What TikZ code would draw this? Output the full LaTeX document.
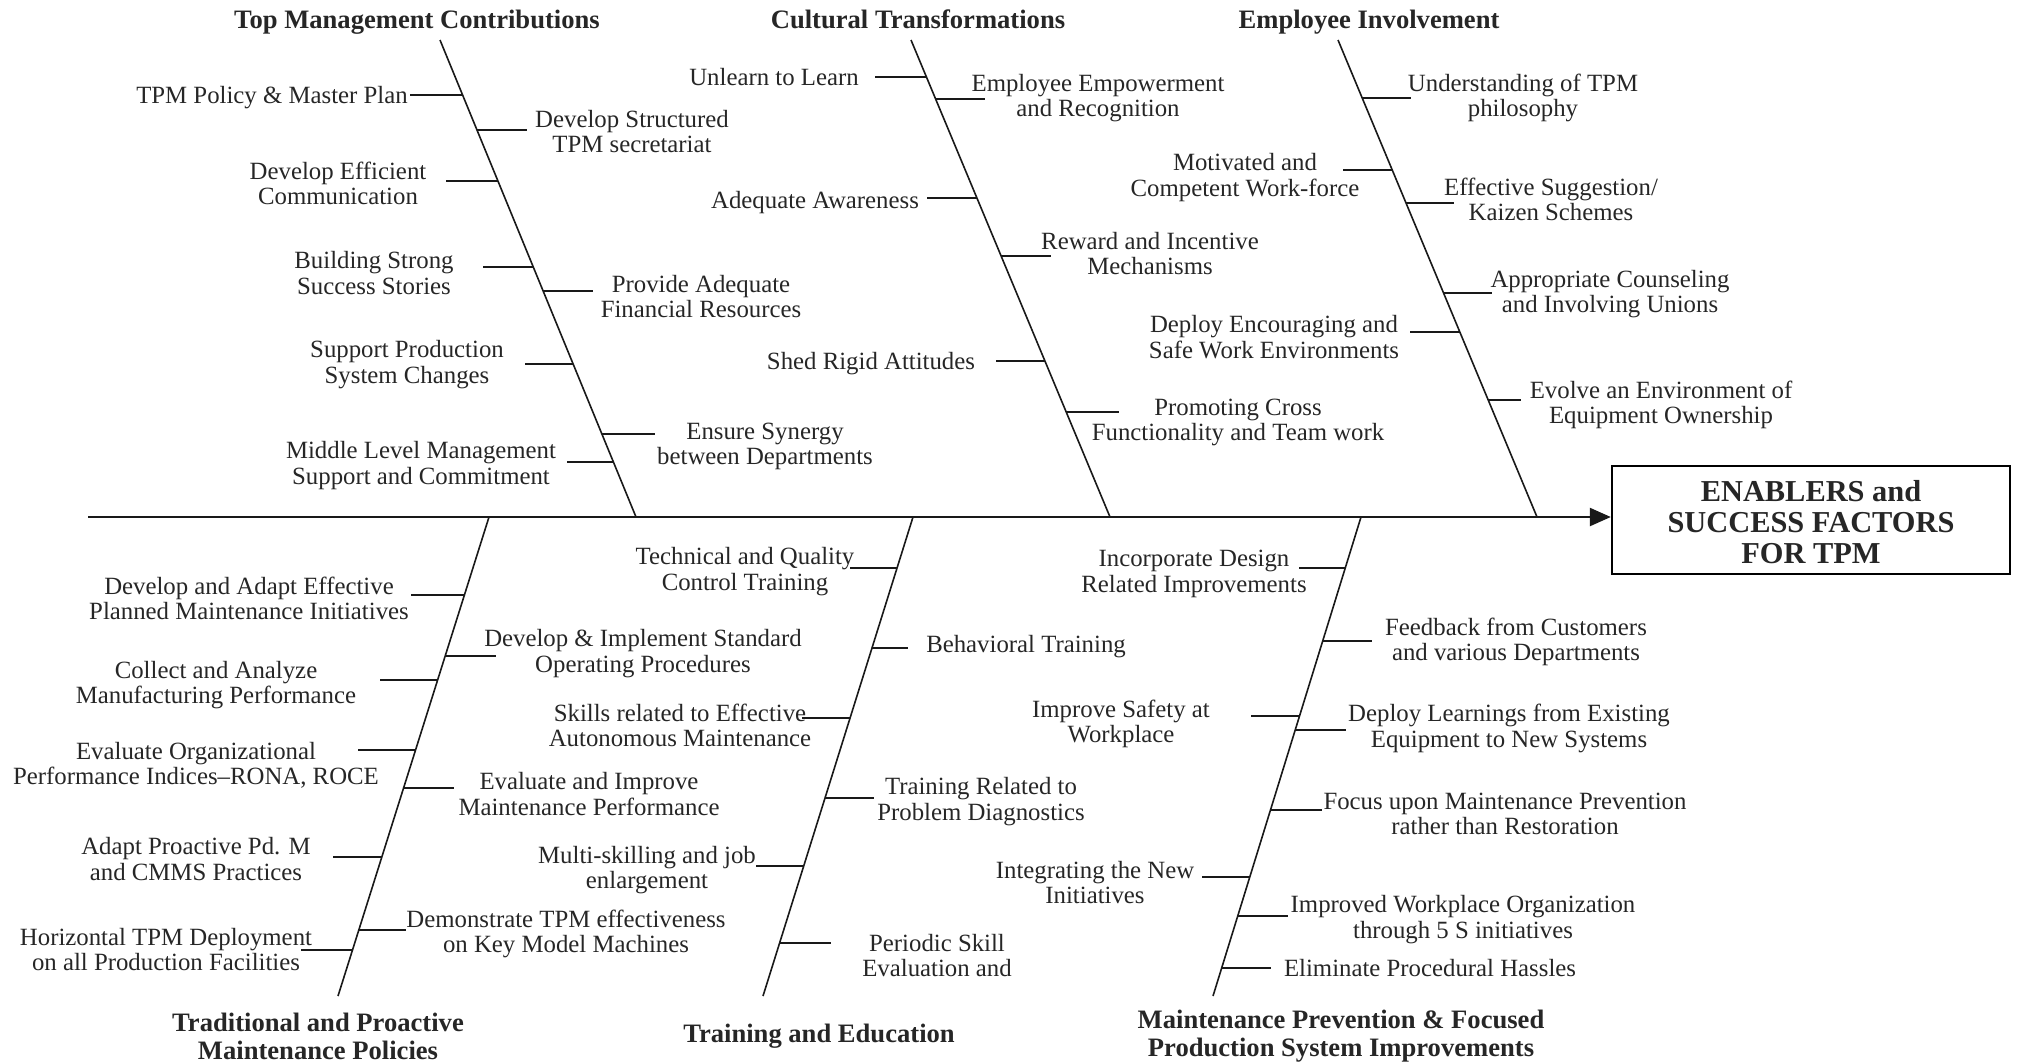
\documentclass[tikz,border=0pt]{standalone}
\usepackage{fontspec}
\setmainfont{Liberation Serif}
\usetikzlibrary{arrows.meta}
\newcommand{\fbranch}[4]{%
  \coordinate (#1b) at (#2,#3);
  \coordinate (#1e) at (#4,#3);
  \draw[twig] (#1b) -- (#1e);}
\begin{document}
\begin{tikzpicture}[x=0.5pt,y=-0.5pt,
  lbl/.style={font=\fontsize{12.4}{12.6}\selectfont, align=center, inner sep=0pt, text=black!85, yshift=-1pt},
  lbl1/.style={lbl, yshift=-0.7pt},
  ttl/.style={font=\fontsize{13.3}{14}\selectfont\bfseries, align=center, inner sep=0pt, text=black!85, yshift=-1pt},
  ttl1/.style={font=\fontsize{13.3}{14}\selectfont\bfseries, inner sep=0pt, text=black!85, anchor=base},
  headbox/.style={draw, line width=1.2pt, minimum width=199pt, minimum height=54pt, align=center,
    font=\fontsize{15.2}{15.3}\selectfont\bfseries, text=black!85},
  bone/.style={line width=0.8pt, black!90},
  twig/.style={line width=0.9pt, black!90},
  spine/.style={line width=1.2pt, black!90, -{Triangle[length=10.5pt,width=9pt]}}]
\useasboundingbox (0,0) rectangle (2017,1062);

% head and spine
\node[headbox] (head) at (1811,520) {\raisebox{-3.2pt}[\height][\depth]{\begin{tabular}{@{}c@{}}ENABLERS and\\SUCCESS FACTORS\\FOR TPM\end{tabular}}};
\coordinate (tail) at (88,517);
\draw[spine] (tail) -- (head.west |- tail);

% bones
\coordinate (tmA) at (440,40);   \coordinate (tmB) at (636,517);
\coordinate (ctA) at (911,40);   \coordinate (ctB) at (1110,517);
\coordinate (eiA) at (1338,40);  \coordinate (eiB) at (1537,517);
\coordinate (trA) at (489,517);  \coordinate (trB) at (338,996);
\coordinate (teA) at (913,517);  \coordinate (teB) at (763,996);
\coordinate (mpA) at (1361,517); \coordinate (mpB) at (1213,996);
\draw[bone] (tmA) -- (tmB);
\draw[bone] (ctA) -- (ctB);
\draw[bone] (eiA) -- (eiB);
\draw[bone] (trA) -- (trB);
\draw[bone] (teA) -- (teB);
\draw[bone] (mpA) -- (mpB);

% titles
\node[ttl1] (tmT) at (417,28) {Top Management Contributions};
\node[ttl1] (ctT) at (918,28) {Cultural Transformations};
\node[ttl1] (eiT) at (1369,28) {Employee Involvement};
\node[ttl] (trT) at (318,1034) {Traditional and Proactive\\Maintenance Policies};
\node[ttl1] (teT) at (819,1042) {Training and Education};
\node[ttl] (mpT) at (1341,1034) {Maintenance Prevention \& Focused\\Production System Improvements};

% Top Management Contributions
\fbranch{tm1}{462.4}{95}{410}
\node[lbl1] (tm1t) at (272,94.5) {TPM Policy \& Master Plan};
\fbranch{tm2}{477.1}{130}{527}
\node[lbl] (tm2t) at (632,129.5) {Develop Structured\\TPM secretariat};
\fbranch{tm3}{498.1}{181}{446}
\node[lbl] (tm3t) at (338,181.5) {Develop Efficient\\Communication};
\fbranch{tm4}{533.5}{267}{483}
\node[lbl] (tm4t) at (374,271) {Building Strong\\Success Stories};
\fbranch{tm5}{543.4}{291}{593}
\node[lbl] (tm5t) at (701,294.5) {Provide Adequate\\Financial Resources};
\fbranch{tm6}{573.4}{364}{525}
\node[lbl] (tm6t) at (407,362.5) {Support Production\\System Changes};
\fbranch{tm7}{602.2}{434}{655}
\node[lbl] (tm7t) at (765,444.5) {Ensure Synergy\\between Departments};
\fbranch{tm8}{613.8}{462}{567}
\node[lbl] (tm8t) at (421,463.5) {Middle Level Management\\Support and Commitment};

% Cultural Transformations
\fbranch{ct1}{926.5}{77}{875}
\node[lbl1] (ct1t) at (774,74) {Unlearn to Learn};
\fbranch{ct2}{935.7}{99}{985}
\node[lbl] (ct2t) at (1098,96) {Employee Empowerment\\and Recognition};
\fbranch{ct3}{977}{198}{927}
\node[lbl1] (ct3t) at (815,199) {Adequate Awareness};
\fbranch{ct4}{1001.3}{256}{1051}
\node[lbl] (ct4t) at (1150,251.5) {Reward and Incentive\\Mechanisms};
\fbranch{ct5}{1045.2}{361}{996}
\node[lbl1] (ct5t) at (871,360) {Shed Rigid Attitudes};
\fbranch{ct6}{1066.5}{412}{1119}
\node[lbl] (ct6t) at (1238,420.5) {Promoting Cross\\Functionality and Team work};

% Employee Involvement
\fbranch{ei1}{1362.2}{98}{1411}
\node[lbl] (ei1t) at (1523,96) {Understanding of TPM\\philosophy};
\fbranch{ei2}{1392.3}{170}{1343}
\node[lbl] (ei2t) at (1245,175.5) {Motivated and\\Competent Work-force};
\fbranch{ei3}{1406.1}{203}{1454}
\node[lbl] (ei3t) at (1551,197.5) {Effective Suggestion/\\Kaizen Schemes};
\fbranch{ei4}{1443.8}{293}{1492}
\node[lbl] (ei4t) at (1610,292) {Appropriate Counseling\\and Involving Unions};
\fbranch{ei5}{1460}{332}{1410}
\node[lbl] (ei5t) at (1274,335) {Deploy Encouraging and\\Safe Work Environments};
\fbranch{ei6}{1488.5}{400}{1521}
\node[lbl] (ei6t) at (1661,403) {Evolve an Environment of\\Equipment Ownership};

% Traditional and Proactive Maintenance Policies
\fbranch{tr1}{464.4}{595}{411}
\node[lbl] (tr1t) at (249,596.5) {Develop and Adapt Effective\\Planned Maintenance Initiatives};
\fbranch{tr2}{445.2}{656}{496}
\node[lbl] (tr2t) at (643,651.5) {Develop \& Implement Standard\\Operating Procedures};
\fbranch{tr3}{437.6}{680}{380}
\node[lbl] (tr3t) at (216,683) {Collect and Analyze\\Manufacturing Performance};
\fbranch{tr4}{415.6}{750}{358}
\node[lbl] (tr4t) at (196,763.5) {Evaluate Organizational\\Performance Indices–RONA, ROCE};
\fbranch{tr5}{403.6}{788}{454}
\node[lbl] (tr5t) at (589,792) {Evaluate and Improve\\Maintenance Performance};
\fbranch{tr6}{381.8}{857}{333}
\node[lbl] (tr6t) at (196,857) {Adapt Proactive Pd. M\\and CMMS Practices};
\fbranch{tr7}{358.8}{930}{406}
\node[lbl] (tr7t) at (566,932) {Demonstrate TPM effectiveness\\on Key Model Machines};
\fbranch{tr8}{352.5}{950}{301}
\node[lbl] (tr8t) at (166,947.5) {Horizontal TPM Deployment\\on all Production Facilities};

% Training and Education
\fbranch{te1}{897}{568}{850}
\node[lbl] (te1t) at (745,569.5) {Technical and Quality\\Control Training};
\fbranch{te2}{872}{648}{908}
\node[lbl1] (te2t) at (1026,643) {Behavioral Training};
\fbranch{te3}{850}{718}{802}
\node[lbl] (te3t) at (680,723.5) {Skills related to Effective\\Autonomous Maintenance};
\fbranch{te4}{825}{798}{874}
\node[lbl] (te4t) at (981,799.5) {Training Related to\\Problem Diagnostics};
\fbranch{te5}{803.7}{866}{756}
\node[lbl] (te5t) at (647,868) {Multi-skilling and job\\enlargement};
\fbranch{te6}{779.6}{943}{831}
\node[lbl] (te6t) at (937,953.5) {Periodic Skill\\Evaluation and};

% Maintenance Prevention & Focused Production System Improvements
\fbranch{mp1}{1345.2}{568}{1299}
\node[lbl] (mp1t) at (1194,572) {Incorporate Design\\Related Improvements};
\fbranch{mp2}{1322.7}{641}{1372}
\node[lbl] (mp2t) at (1516,639.5) {Feedback from Customers\\and various Departments};
\fbranch{mp3}{1299.5}{716}{1251}
\node[lbl] (mp3t) at (1121,721.5) {Improve Safety at\\Workplace};
\fbranch{mp4}{1295.2}{730}{1346}
\node[lbl] (mp4t) at (1509,726.5) {Deploy Learnings from Existing\\Equipment to New Systems};
\fbranch{mp5}{1270.5}{810}{1322}
\node[lbl] (mp5t) at (1505,811.5) {Focus upon Maintenance Prevention\\rather than Restoration};
\fbranch{mp6}{1249.8}{877}{1202}
\node[lbl] (mp6t) at (1095,880.5) {Integrating the New\\Initiatives};
\fbranch{mp7}{1237.7}{916}{1288}
\node[lbl] (mp7t) at (1463,917.5) {Improved Workplace Organization\\through 5 S initiatives};
\fbranch{mp8}{1221.6}{968}{1271}
\node[lbl1] (mp8t) at (1430,965) {Eliminate Procedural Hassles};
\end{tikzpicture}
\end{document}
